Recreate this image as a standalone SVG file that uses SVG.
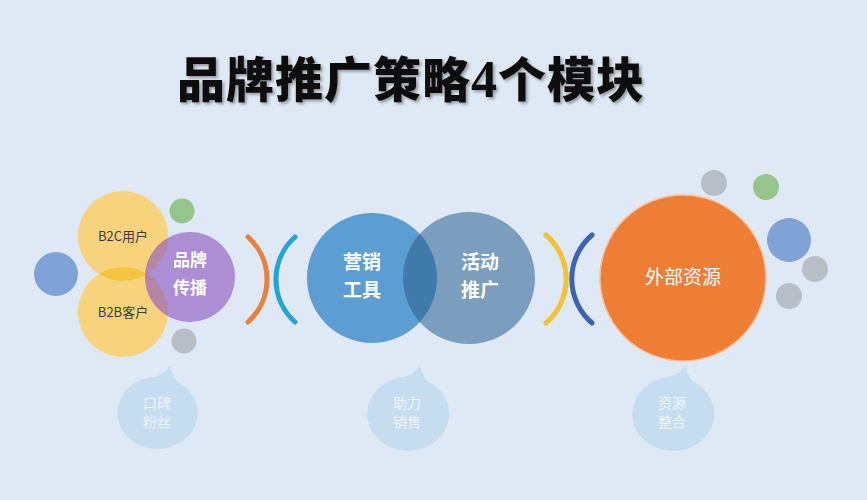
<svg xmlns="http://www.w3.org/2000/svg" width="867" height="500" viewBox="0 0 867 500">
<defs>
<style>
.cj{font-family:"Noto Sans CJK SC","Noto Sans",sans-serif;text-anchor:middle}
.title{font-family:"Noto Sans CJK SC","Noto Sans",sans-serif;font-size:48px;font-weight:900;fill:#111;letter-spacing:1px}
.small{font-size:13px;fill:#3b3b3b}
.w{fill:#fff;font-weight:bold}
.bub{fill:#c6dcef}
.bt{font-size:14px;fill:#eef4fa}
.arc{fill:none;stroke-width:5;stroke-linecap:round}
</style>
<filter id="sh" x="-5%" y="-20%" width="110%" height="140%">
<feDropShadow dx="2" dy="2" stdDeviation="1.5" flood-color="#000" flood-opacity="0.35"/>
</filter>
<clipPath id="cB2C"><circle cx="123" cy="236" r="45"/></clipPath>
<clipPath id="cTool"><circle cx="372" cy="278" r="65"/></clipPath>
</defs>
<rect width="867" height="500" fill="#dfe9f5"/>
<text class="title" x="177" y="97" filter="url(#sh)">品牌推广策略<tspan font-family="'Liberation Serif',serif" font-size="52">4</tspan>个模块</text>

<g id="connectors">
<path class="arc" stroke="#e9803c" d="M248,237 A57,57 0 0 1 248,322"/>
<path class="arc" stroke="#22a3da" d="M295,237 A57,57 0 0 0 295,322"/>
<path class="arc" stroke="#f2c230" d="M546,235 A58,58 0 0 1 546,323"/>
<path class="arc" stroke="#3d63b1" d="M592,235 A58,58 0 0 0 592,323"/>
</g>

<g id="deco-left">
<circle cx="56" cy="274" r="22" fill="#80a3d7"/>
<circle cx="182" cy="211" r="12.5" fill="#95c589"/>
<circle cx="184" cy="341" r="12.5" fill="#b9bec6"/>
</g>
<g id="node-b2c">
<circle cx="123" cy="236" r="45" fill="#f6d37c"/>
<text class="cj small" x="123" y="241">B2C用户</text>
</g>
<g id="node-b2b">
<circle cx="123" cy="312" r="45" fill="#f6d37c"/>
<circle cx="123" cy="312" r="45" fill="#f5c541" clip-path="url(#cB2C)"/>
<text class="cj small" x="123" y="317">B2B客户</text>
</g>
<g id="node-brand">
<circle cx="190" cy="277" r="45" fill="#8a55bf" fill-opacity="0.62"/>
<text class="cj w" font-size="17" x="190" y="266">品牌</text>
<text class="cj w" font-size="17" x="190" y="294">传播</text>
</g>

<g id="node-tool">
<circle cx="372" cy="278" r="65" fill="#5c9dd2"/>
<text class="cj w" font-size="19" x="362" y="269">营销</text>
<text class="cj w" font-size="19" x="362" y="297">工具</text>
</g>
<g id="node-activity">
<circle cx="469" cy="278" r="66" fill="#7b9dbe"/>
<circle cx="469" cy="278" r="66" fill="#3f7aab" clip-path="url(#cTool)"/>
<text class="cj w" font-size="19" x="480" y="269">活动</text>
<text class="cj w" font-size="19" x="480" y="297">推广</text>
</g>

<g id="node-external">
<circle cx="683" cy="278" r="83" fill="#ee7e36" stroke="#f7c29a" stroke-width="1.5"/>
<text class="cj" font-size="19" fill="#fff" x="683" y="284">外部资源</text>
</g>
<g id="deco-right">
<circle cx="714" cy="183" r="13" fill="#b9bec6"/>
<circle cx="766" cy="187" r="13" fill="#95c589"/>
<circle cx="789" cy="240" r="22" fill="#80a3d7"/>
<circle cx="815" cy="269" r="13" fill="#b9bec6"/>
<circle cx="789" cy="296" r="13" fill="#b9bec6"/>
</g>

<g id="bubble-left">
<path class="bub" d="M155,377 Q165,374 170,366 Q172,374 176,381 A40,36 0 1 1 155,377 Z"/>
<text class="cj bt" x="157" y="408">口碑</text>
<text class="cj bt" x="157" y="427">粉丝</text>
</g>
<g id="bubble-center">
<path class="bub" d="M405,377 Q415,374 420,365 Q422,374 427,381 A41,37 0 1 1 405,377 Z"/>
<text class="cj bt" x="407" y="408">助力</text>
<text class="cj bt" x="407" y="427">销售</text>
</g>
<g id="bubble-right">
<path class="bub" d="M670,377 Q680,374 685,365 Q687,374 692,381 A41,37 0 1 1 670,377 Z"/>
<text class="cj bt" x="672" y="408">资源</text>
<text class="cj bt" x="672" y="427">整合</text>
</g>
</svg>
